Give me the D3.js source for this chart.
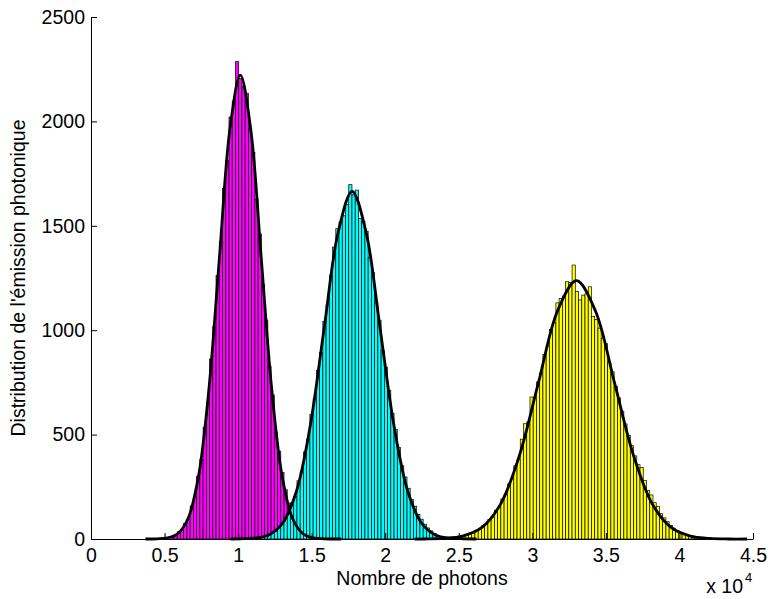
<!DOCTYPE html>
<html>
<head>
<meta charset="utf-8">
<script src="https://cdn.jsdelivr.net/npm/d3@7"></script>
<style>
  body { margin: 0; background: #fff; }
  text { font-family: "Liberation Sans", Arial, sans-serif; }
</style>
</head>
<body>
<svg id="chart" width="771" height="599"></svg>
<script>
// histogram bins: shared width, centre of the first bin for each series (photons)
const binWidth = 220;
const magentaStart = 5530;
const cyanStart = 11690;
const yellowStart = 24450;

const magentaCounts = [8, 15, 34, 41, 75, 96, 158, 204, 301, 382, 536, 655, 862, 1018, 1262, 1425, 1678, 1815, 2021, 2097,
  2286, 2205, 2168, 2135, 1966, 1852, 1629, 1461, 1219, 1049, 828, 690, 512, 421, 318, 236, 172, 121, 84, 52, 31, 19, 9];

const cyanCounts = [9, 17, 19, 33, 37, 58, 71, 104, 123, 173, 204, 279, 321, 417, 478, 596, 672, 808, 893, 1042,
  1121, 1263, 1398, 1486, 1519, 1548, 1602, 1697, 1648, 1671, 1536, 1521, 1472, 1349, 1276, 1131, 1048, 902, 823, 712,
  601, 524, 438, 351, 297, 243, 189, 157, 118, 95, 71, 53, 39, 27, 18, 12, 8];

const yellowCounts = [4, 6, 10, 11, 17, 18, 27, 29, 42, 46, 63, 70, 94, 104, 138, 151, 192, 212, 263, 288,
  351, 380, 478, 552, 561, 680, 672, 752, 795, 884, 921, 1003, 1036, 1131, 1152, 1163, 1232, 1228, 1312,
  1186, 1145, 1168, 1175, 1208, 1066, 1052, 1010, 961, 935, 846, 801, 731, 676, 612, 551, 497, 447, 398, 356,
  343, 281, 232, 211, 174, 155, 121, 101, 83, 64, 52, 41, 31, 25, 19, 14, 10, 7, 5, 3];

// fitted curves, [photons, count]
const magentaFit = [[3700, 0], [4470, 1], [5180, 5], [5890, 25], [6600, 98], [7310, 301], [8020, 721], [8730, 1348],
  [9440, 1961], [10150, 2222], [10860, 1961], [11570, 1348], [12280, 721], [12990, 301], [13700, 98], [14410, 25],
  [15120, 5], [15830, 1], [17000, 0]];
const cyanFit = [[9500, 0], [10150, 1], [11100, 4], [12050, 18], [13000, 73], [13950, 225], [14900, 541], [15850, 1010],
  [16800, 1469], [17750, 1665], [18700, 1469], [19650, 1010], [20600, 541], [21550, 225], [22500, 73], [23450, 18],
  [24400, 4], [25350, 1], [26200, 0]];
const yellowFit = [[22000, 0], [22680, 0], [23970, 3], [25260, 14], [26550, 54], [27840, 167], [29130, 402], [30420, 750],
  [31710, 1092], [33000, 1237], [34290, 1092], [35580, 750], [36870, 402], [38160, 167], [39450, 54], [40740, 14],
  [42030, 3], [43320, 0], [44600, 0]];

const xTicks = [0, 5000, 10000, 15000, 20000, 25000, 30000, 35000, 40000, 45000];
const yTicks = [0, 500, 1000, 1500, 2000, 2500];

const svg = d3.select("#chart");
const margin = { top: 17, right: 18, bottom: 60, left: 91 };
const width = 771, height = 599;

const x = d3.scaleLinear().domain([0, 45000]).range([margin.left, width - margin.right]);
const y = d3.scaleLinear().domain([0, 2500]).range([height - margin.bottom, margin.top]);

const series = [
  { start: magentaStart, counts: magentaCounts, color: "#ff00ff" },
  { start: cyanStart, counts: cyanCounts, color: "#00ffff" },
  { start: yellowStart, counts: yellowCounts, color: "#ffff00" }
];

series.forEach(s => {
  const bins = s.counts.map((c, i) => ({ c: s.start + i * binWidth, n: c }));
  svg.append("g").selectAll("rect")
    .data(bins)
    .enter()
    .append("rect")
    .attr("x", d => x(d.c - binWidth / 2))
    .attr("width", d => x(d.c + binWidth / 2) - x(d.c - binWidth / 2))
    .attr("y", d => y(d.n))
    .attr("height", d => y(0) - y(d.n))
    .attr("fill", s.color)
    .attr("stroke", "#000")
    .attr("stroke-width", 0.7);
});

const line = d3.line()
  .x(d => x(d[0]))
  .y(d => y(d[1]))
  .curve(d3.curveCatmullRom.alpha(0.5));

[magentaFit, cyanFit, yellowFit].forEach(f => {
  svg.append("path")
    .attr("d", line(f))
    .attr("fill", "none")
    .attr("stroke", "#000")
    .attr("stroke-width", 2.8)
    .attr("stroke-linejoin", "round");
});

const xAxis = svg.append("g")
  .attr("transform", `translate(0,${y(0)})`)
  .call(d3.axisBottom(x).tickValues(xTicks).tickSizeInner(-6).tickSizeOuter(0).tickPadding(9)
    .tickFormat(d => d / 10000));
const yAxis = svg.append("g")
  .attr("transform", `translate(${x(0)},0)`)
  .call(d3.axisLeft(y).tickValues(yTicks).tickSizeInner(-6).tickSizeOuter(0).tickPadding(6)
    .tickFormat(d3.format("d")));

[xAxis, yAxis].forEach(g => {
  g.attr("font-size", 19.5).attr("font-family", "Liberation Sans, Arial, sans-serif");
  g.selectAll("text").attr("fill", "#000");
  g.selectAll("line, path").attr("stroke", "#000");
});

svg.append("text")
  .attr("x", (x(0) + x(45000)) / 2)
  .attr("y", 585)
  .attr("text-anchor", "middle")
  .attr("font-size", 19.5)
  .text("Nombre de photons");

svg.append("text")
  .attr("transform", `translate(25,${(y(0) + y(2500)) / 2}) rotate(-90)`)
  .attr("text-anchor", "middle")
  .attr("font-size", 19.5)
  .text("Distribution de l'émission photonique");

svg.append("text")
  .attr("x", 743)
  .attr("y", 593)
  .attr("text-anchor", "end")
  .attr("font-size", 19.5)
  .text("x 10");
svg.append("text")
  .attr("x", 745)
  .attr("y", 582)
  .attr("font-size", 13)
  .text("4");
</script>
</body>
</html>
